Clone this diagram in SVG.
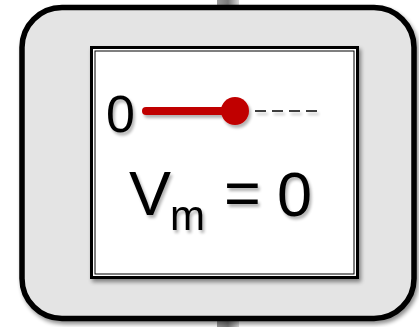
<svg xmlns="http://www.w3.org/2000/svg" width="419" height="327" viewBox="0 0 419 327">
<style>
.t{font-family:"Liberation Sans",Arial,sans-serif;fill:#000}
</style>
<defs>
<linearGradient id="conn" x1="0" y1="0" x2="1" y2="0">
<stop offset="0" stop-color="#9a9a9a"/>
<stop offset="0.5" stop-color="#7a7a7a"/>
<stop offset="1" stop-color="#d8d8d8"/>
</linearGradient>
<filter id="sh" x="-10%" y="-10%" width="130%" height="130%">
<feGaussianBlur in="SourceAlpha" stdDeviation="2"/>
<feOffset dx="2" dy="3"/>
<feComponentTransfer><feFuncA type="linear" slope="0.45"/></feComponentTransfer>
<feMerge><feMergeNode/><feMergeNode in="SourceGraphic"/></feMerge>
</filter>
<filter id="tsh" x="-20%" y="-20%" width="150%" height="150%">
<feGaussianBlur in="SourceAlpha" stdDeviation="1.5"/>
<feOffset dx="1.5" dy="2.5"/>
<feComponentTransfer><feFuncA type="linear" slope="0.3"/></feComponentTransfer>
<feMerge><feMergeNode/><feMergeNode in="SourceGraphic"/></feMerge>
</filter>
</defs>
<rect width="419" height="327" fill="#ffffff"/>
<g id="connectors">
<rect x="217" y="0" width="22" height="327" fill="url(#conn)"/>
</g>
<g id="node">
<rect x="22" y="7.5" width="392" height="311" rx="40" ry="40" fill="#e4e4e4" stroke="#000" stroke-width="5.5" filter="url(#sh)"/>
<rect x="91.5" y="47.5" width="266" height="230" fill="#fff" stroke="#000" stroke-width="3" filter="url(#sh)"/>
<rect x="95" y="51" width="259" height="223" fill="none" stroke="#000" stroke-width="1"/>
<g filter="url(#tsh)">
<text class="t" x="106" y="132" font-size="52">0</text>
<line x1="146" y1="111" x2="235" y2="111" stroke="#c00000" stroke-width="8" stroke-linecap="round"/>
<circle cx="235" cy="111" r="14" fill="#c00000"/>
<line x1="255" y1="111" x2="322" y2="111" stroke="#000" stroke-width="1.6" stroke-dasharray="11,6"/>
<text class="t" x="129" y="215" font-size="63">V</text>
<text class="t" x="170" y="230" font-size="42">m</text>
<text class="t" x="224" y="215" font-size="63">=</text>
<text class="t" x="277" y="216" font-size="63">0</text>
</g>
</g>
</svg>
